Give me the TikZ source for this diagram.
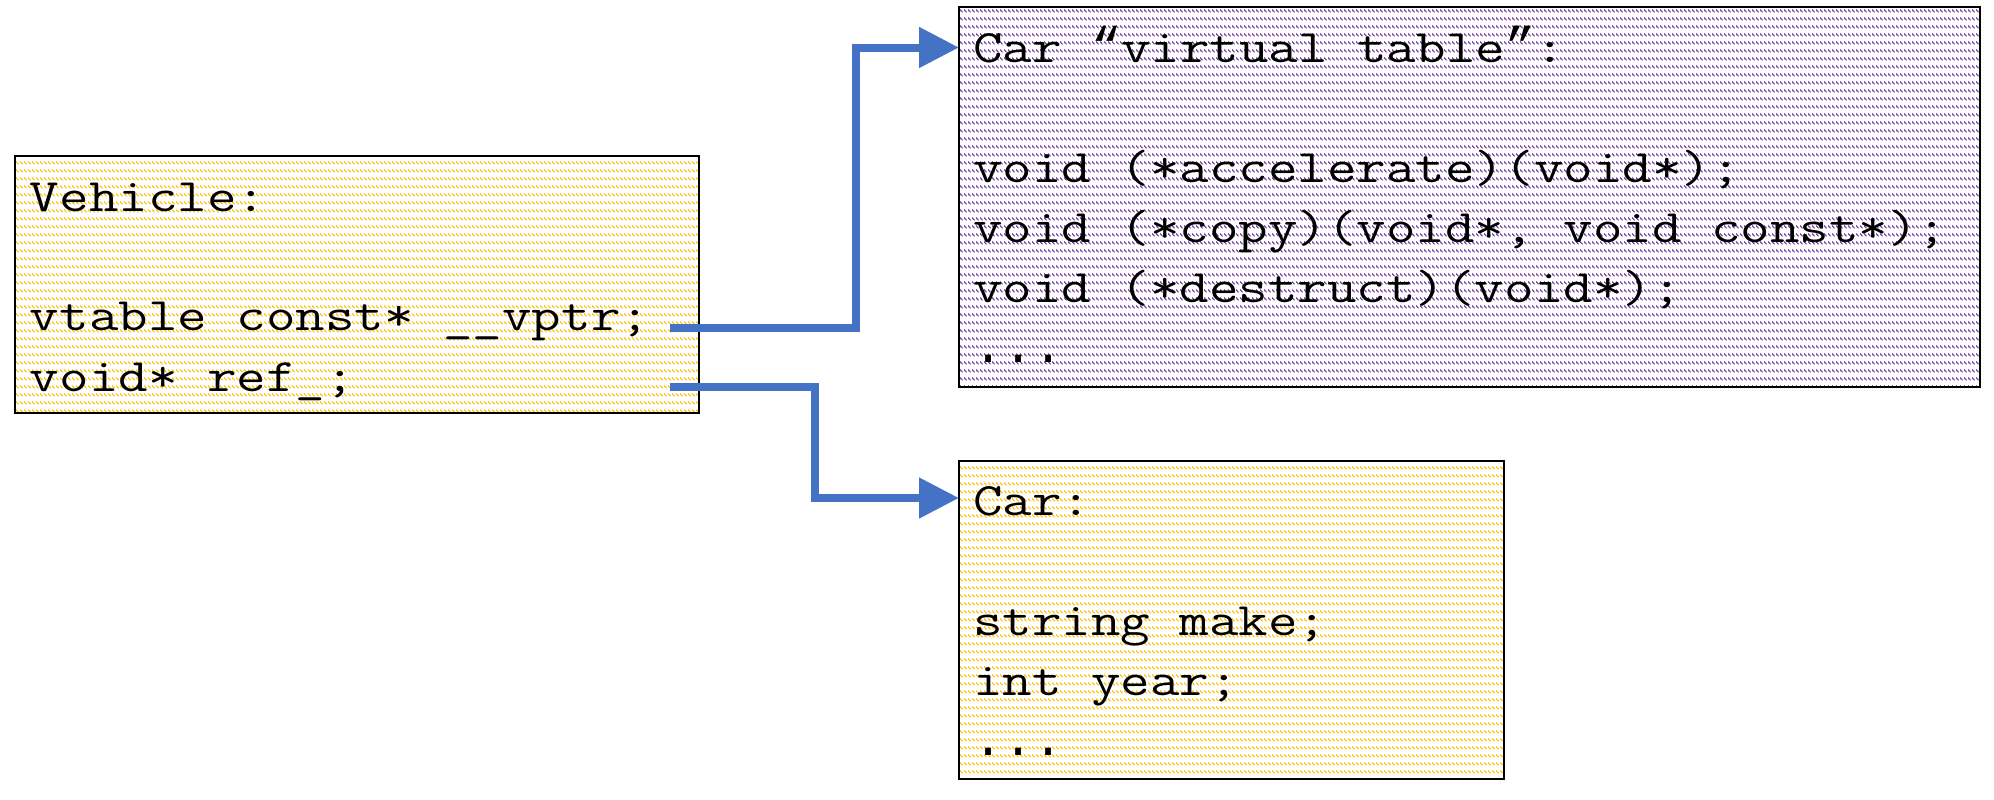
\documentclass[tikz,border=0pt]{standalone}
\usepackage{fontspec}
\usepackage{graphicx}
\usetikzlibrary{arrows.meta,patterns.meta}

\newfontfamily\quotefont{Liberation Mono}

\definecolor{boxyellow}{HTML}{FFC000}
\definecolor{boxpurple}{HTML}{7030A0}
\definecolor{linkblue}{HTML}{4472C4}

% rows of short falling strokes, used as the fill of the memory blocks
\pgfdeclarepattern{
  name=rowdash,
  type=uncolored,
  bottom left={\pgfpoint{0pt}{0pt}},
  top right={\pgfpoint{2pt}{4pt}},
  tile size={\pgfpoint{2pt}{4pt}},
  code={
    \pgfsetlinewidth{0.6pt}
    \pgfpathmoveto{\pgfpoint{0pt}{3.1pt}}
    \pgfpathlineto{\pgfpoint{1.6pt}{1.5pt}}
    \pgfusepath{stroke}
  }
}

% typewriter text widened to a Courier-like advance
\newcommand\codeline[1]{\scalebox{1.233}[1]{#1}}
% quotes and dots taken from a Courier-metric face
\newcommand\cq[1]{\scalebox{0.811}[1]{\fontsize{25.1pt}{30pt}\selectfont\quotefont #1}}

\begin{document}
\begin{tikzpicture}[x=0.5pt,y=-0.5pt,
  memblock/.style={draw=black, line width=1.4pt, pattern=rowdash,
                   inner sep=0pt, outer sep=0pt},
  code/.style={anchor=base west, inner sep=0pt, outer sep=0pt,
               font=\fontsize{23.25pt}{28pt}\selectfont\ttfamily},
  link/.style={draw=linkblue, line width=4pt, line join=miter,
               -{Triangle[length=20pt,width=19.5pt]}}]

\useasboundingbox (0,0) rectangle (1994,799);

% memory blocks
\node[memblock, pattern color=boxyellow, minimum width=342pt, minimum height=128.5pt]
  (vehicle) at (357,284.5) {};
\node[memblock, pattern color=boxpurple, minimum width=510.5pt, minimum height=190pt]
  (vtable) at (1469.5,197) {};
\node[memblock, pattern color=boxyellow, minimum width=272.5pt, minimum height=159pt]
  (car) at (1231.5,620) {};

% Vehicle
\node[code] (vehTitle) at (30,211) {\codeline{Vehicle:}};
\node[code] (vehVptr)  at (30,330) {\codeline{vtable const* \_\_vptr;}};
\node[code] (vehRef)   at (30,391) {\codeline{void* ref\_;}};

% Car virtual table
\node[code] (vtTitle) at (973,62.5) {\codeline{Car \cq{“}virtual table\cq{”}:}};
\node[code] (vtAccel) at (973,182)  {\codeline{void (*accelerate)(void*);}};
\node[code] (vtCopy)  at (973,242)  {\codeline{void (*copy)(void*, void const*);}};
\node[code] (vtDtor)  at (973,302)  {\codeline{void (*destruct)(void*);}};
\node[code] (vtMore)  at (973,362)  {\codeline{\cq{...}}};

% Car
\node[code] (carTitle) at (973,515) {\codeline{Car:}};
\node[code] (carMake)  at (973,635) {\codeline{string make;}};
\node[code] (carYear)  at (973,695) {\codeline{int year;}};
\node[code] (carMore)  at (973,755) {\codeline{\cq{...}}};

% pointers
\coordinate (vptrEnd) at (670,328);
\coordinate (refEnd)  at (670,387);
\coordinate (vtEntry)  at (vtable.west |- 0,47.5);
\coordinate (carEntry) at (car.west |- 0,498);

\draw[link] (vptrEnd) -- (856,328) |- (vtEntry);
\draw[link] (refEnd) -- (815,387) |- (carEntry);

\end{tikzpicture}
\end{document}
